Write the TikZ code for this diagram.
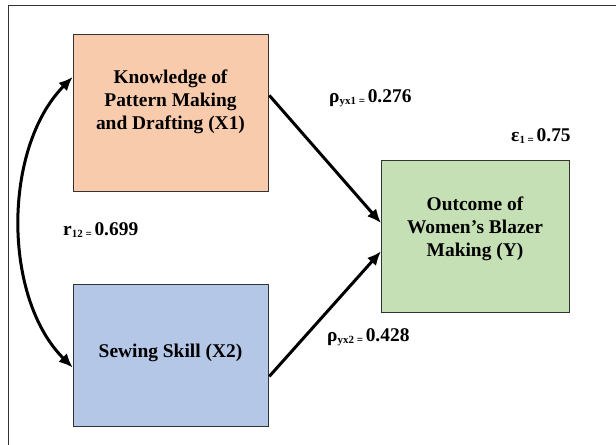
\documentclass[tikz,border=0pt]{standalone}
\usepackage{fontspec}
\setmainfont{Liberation Serif}
\usetikzlibrary{arrows.meta}
\definecolor{peach}{HTML}{F8CBAD}
\definecolor{lblue}{HTML}{B4C7E7}
\definecolor{lgreen}{HTML}{C5E0B4}
\newcommand{\smallsub}[1]{{\fontsize{11}{11}\selectfont\raisebox{-2bp}{#1}}}
\begin{document}
\begin{tikzpicture}[x=1bp,y=-1bp,
  box/.style={draw=black!80,line width=1bp,inner sep=0,anchor=north west},
  boxtext/.style={font=\bfseries\fontsize{19.5}{23}\selectfont,align=center,inner sep=0},
  coef/.style={font=\bfseries\fontsize{19.5}{23}\selectfont,inner sep=0,anchor=base west},
  conn/.style={line width=3bp,-{Latex[length=14bp,width=12bp]}},
  both/.style={line width=3bp,{Latex[length=14bp,width=12bp]}-{Latex[length=14bp,width=12bp]}}]
\useasboundingbox (0,0) rectangle (616,445);
\fill[white] (0,0) rectangle (616,445);
\draw[line width=1.4bp, black!80] (8.7,460) -- (8.7,5.7) -- (630,5.7);
\node[box,fill=peach,minimum width=195.6bp,minimum height=157bp] (x1) at (72.7,33.7) {};
\node[box,fill=lblue,minimum width=195.6bp,minimum height=142bp] (x2) at (72.7,284) {};
\node[box,fill=lgreen,minimum width=188bp,minimum height=151.7bp] (y) at (381,160) {};
\node[boxtext] (x1t) at (170.5,102) {Knowledge of\\Pattern Making\\and Drafting (X1)};
\node[boxtext] (x2t) at (170.5,353) {Sewing Skill (X2)};
\node[boxtext] (yt) at (475,229) {Outcome of\\Women’s Blazer\\Making (Y)};
\draw[conn] (x1.10.5) -- (y.172.8);
\draw[conn] (x2.-12) -- (y.189);
\draw[both] (x1.160.7) .. controls (2.5,148) and (2.5,298) .. (x2.187.4);
\node[coef] (p1) at (329,103) {ρ\smallsub{yx1 = }0.276};
\node[coef] (p2) at (327,341) {ρ\smallsub{yx2 = }0.428};
\node[coef] (e1) at (511,142) {ε\smallsub{1 = }0.75};
\node[coef] (r12) at (63,236) {r\smallsub{12 = }0.699};
\end{tikzpicture}
\end{document}
